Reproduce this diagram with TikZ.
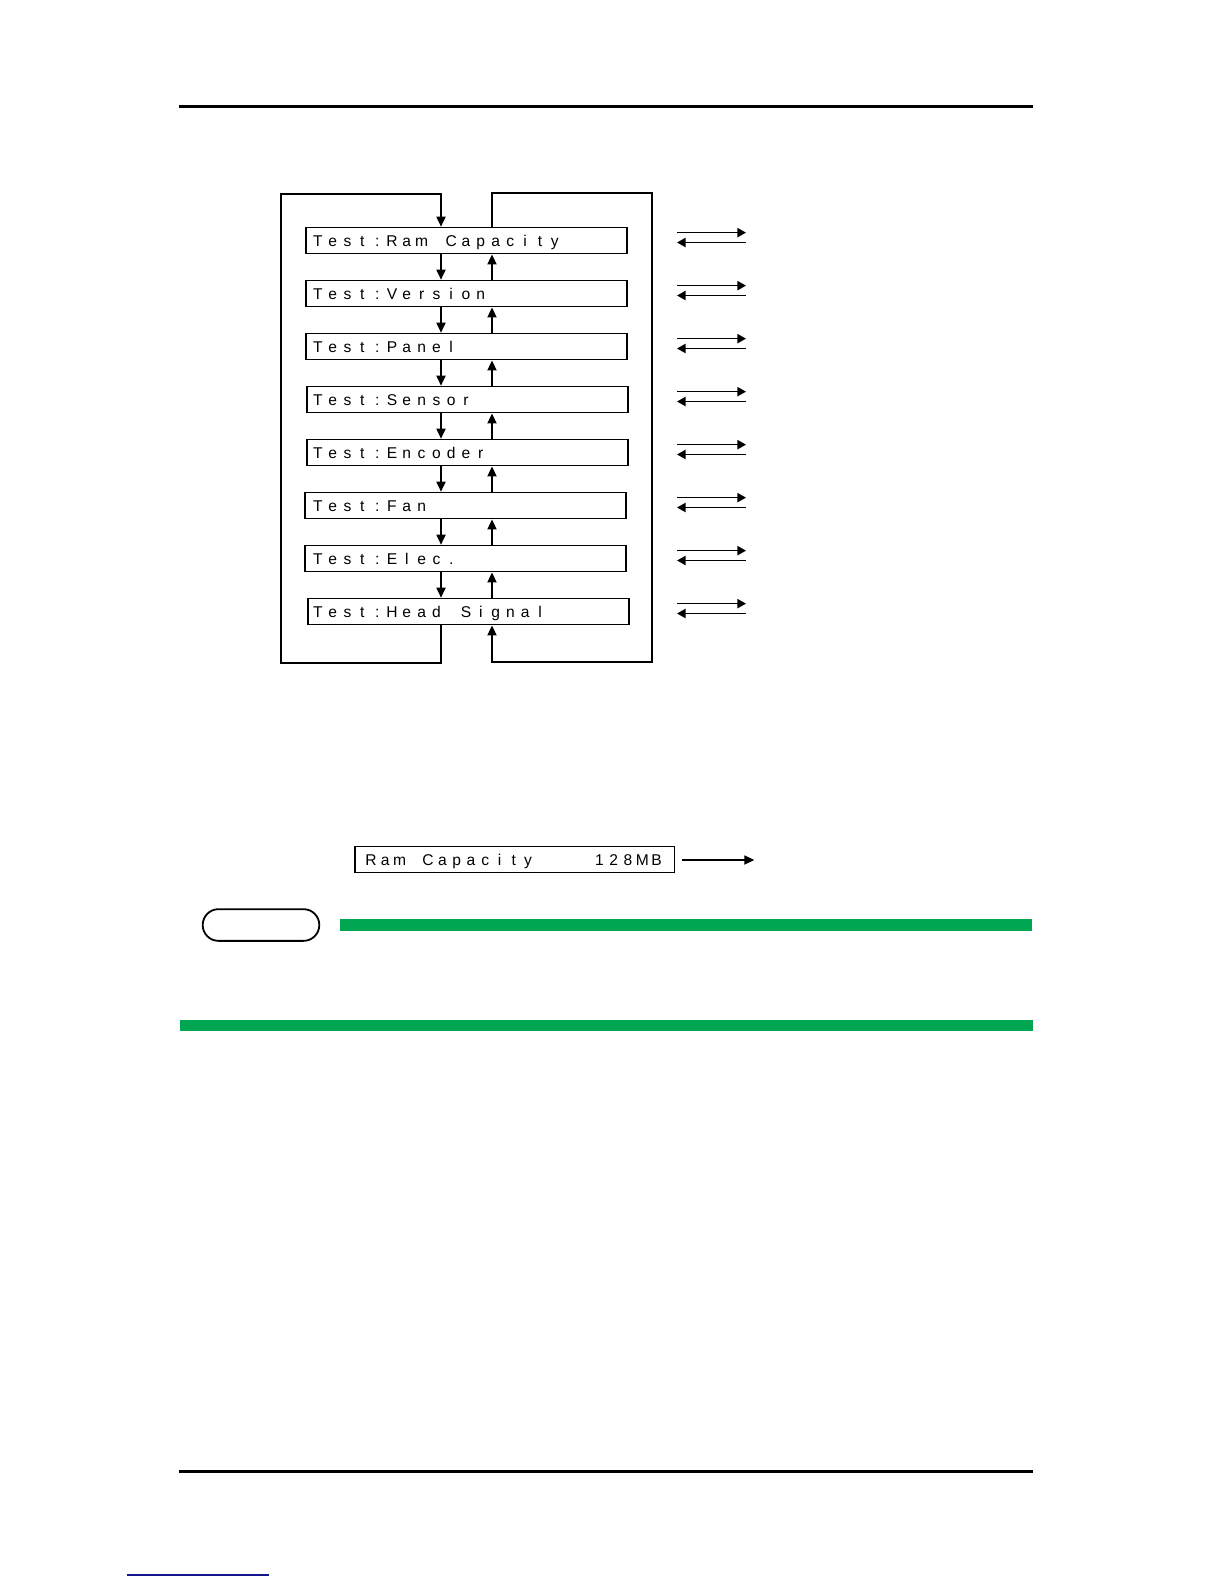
\documentclass[tikz,border=0pt]{standalone}
\usepackage{fontspec}
\newfontfamily\lcdfont{Liberation Sans}
\usetikzlibrary{arrows.meta}
\definecolor{barGreen}{RGB}{0,166,81}
\definecolor{linkBlue}{RGB}{20,20,140}
\newlength\lcdcell
\def\lcdrun#1{\ifx\relax#1\else\makebox[\lcdcell]{#1}\expandafter\lcdrun\fi}
% #1 cell width, #2 offset, #3 box width, #4 text
\newcommand\lcdtext[4]{\setlength\lcdcell{#1}\makebox[#3][l]{\hspace*{#2}\smash{\raisebox{-2.8pt}{\lcdfont\fontsize{7.8pt}{9pt}\selectfont\lcdrun#4\relax}}}}
\begin{document}
\begin{tikzpicture}[x=0.5pt,y=-0.5pt,
  lcd/.style={draw, line width=0.65pt, inner sep=0pt, minimum width=160.5pt, minimum height=13.25pt},
  flow/.style={line width=0.65pt, -{Triangle[length=5pt,width=4.6pt]}},
  harrow/.style={line width=0.8pt, -{Triangle[length=4.3pt,width=4.6pt]}},
  outarrow/.style={line width=0.55pt, -{Triangle[length=5pt,width=4.6pt]}},
  rule/.style={line width=1.35pt},
  notebox/.style={draw, line width=0.9pt, rounded corners=7.9pt, minimum width=58.3pt, minimum height=15.85pt, inner sep=0pt}
]
\useasboundingbox (0,0) rectangle (1224,1584);

% page rules
\draw[rule] (179,106.7) -- (1033,106.7);
\draw[rule] (179,1471.7) -- (1033,1471.7);
\draw[linkBlue, line width=0.65pt] (127,1575) -- (269,1575);

% menu boxes
\node[lcd] (b1) at (466.5,240.55) {\lcdtext{7.4pt}{2.3pt}{160.5pt}{Test:Ram~Capacity}};
\node[lcd] (b2) at (466.5,293.55) {\lcdtext{7.4pt}{2.3pt}{160.5pt}{Test:Version}};
\node[lcd] (b3) at (466.5,346.55) {\lcdtext{7.4pt}{2.3pt}{160.5pt}{Test:Panel}};
\node[lcd] (b4) at (467.5,399.55) {\lcdtext{7.4pt}{1.8pt}{160.5pt}{Test:Sensor}};
\node[lcd] (b5) at (467.5,452.55) {\lcdtext{7.4pt}{1.8pt}{160.5pt}{Test:Encoder}};
\node[lcd] (b6) at (465.5,505.55) {\lcdtext{7.4pt}{2.8pt}{160.5pt}{Test:Fan}};
\node[lcd] (b7) at (465.5,558.55) {\lcdtext{7.4pt}{2.8pt}{160.5pt}{Test:Elec.}};
\node[lcd] (b8) at (468.5,611.55) {\lcdtext{7.4pt}{1.3pt}{160.5pt}{Test:Head~Signal}};

\coordinate (dx) at (441,0);
\coordinate (ux) at (492,0);
\coordinate (lt) at (281,194);
\coordinate (lb) at (281,663);
\coordinate (rt) at (652,193);
\coordinate (rb) at (652,662);
\coordinate (axl) at (677,0);
\coordinate (axr) at (746,0);

% down / up arrows between boxes
\foreach \a/\b in {1/2,2/3,3/4,4/5,5/6,6/7,7/8}{
  \draw[flow] (b\a.south -| dx) -- (b\b.north -| dx);
  \draw[flow] (b\b.north -| ux) -- (b\a.south -| ux);
}

% outer loops
\draw[flow] (b8.south -| dx) -- (dx |- lb) -- (lb) -- (lt) -- (dx |- lt) -- (b1.north -| dx);
\draw[flow] (b1.north -| ux) -- (ux |- rt) -- (rt) -- (rb) -- (ux |- rb) -- (b8.south -| ux);

% right-hand double arrows
\foreach \i in {1,...,8}{
  \draw[harrow] (b\i.center -| axl) ++(0,-7.9) -- ++(69,0);
  \draw[harrow] (b\i.center -| axr) ++(0,1.95) -- ++(-69,0);
}

% result display
\node[lcd, minimum width=159.65pt, minimum height=12.8pt] (rc) at (514.65,859.5)
  {\lcdtext{7.14pt}{4.43pt}{159.65pt}{Ram~Capacity~~~~128MB}};
\coordinate (rcend) at (754.3,860);
\draw[outarrow] ([xshift=3.7pt]rc.east |- rcend) -- (rcend);

% note marker and green bars
\node[notebox] (note) at (261,925) {};
\fill[barGreen] (340,919.3) rectangle (1032,930.7);
\fill[barGreen] (180,1020) rectangle (1033,1031);
\end{tikzpicture}
\end{document}
